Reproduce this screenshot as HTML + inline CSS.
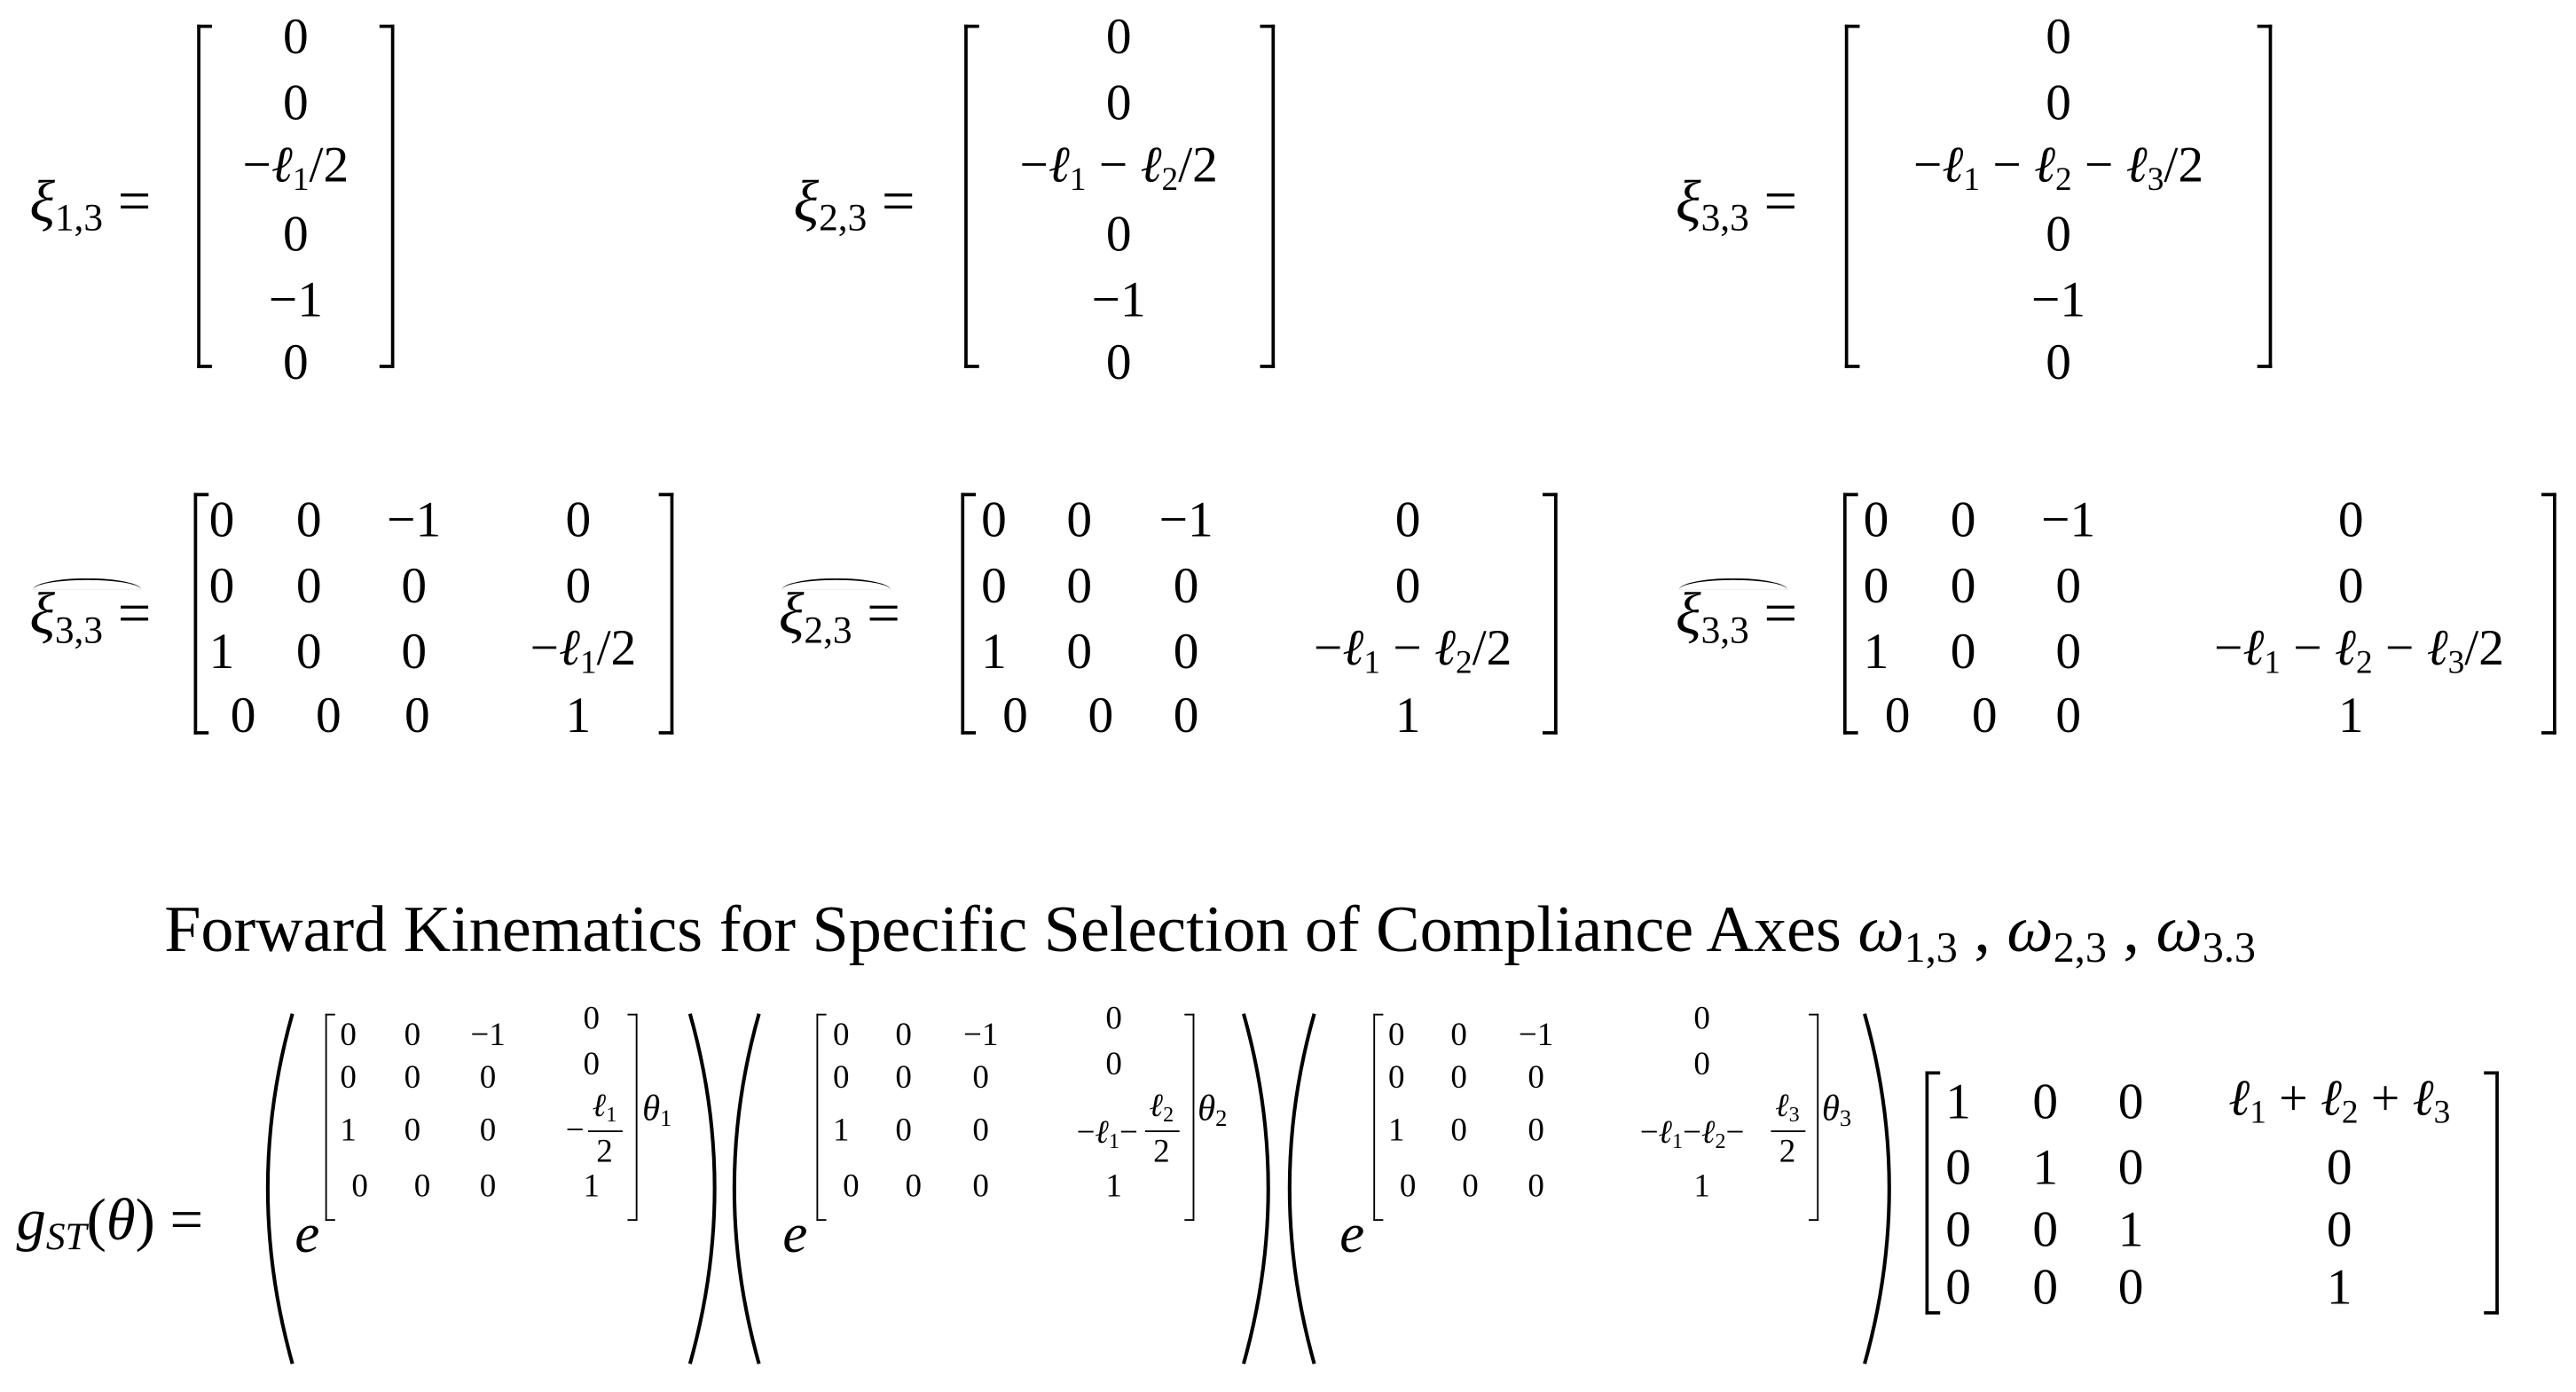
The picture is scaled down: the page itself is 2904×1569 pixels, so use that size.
<!DOCTYPE html>
<html><head><meta charset="utf-8"><style>
html,body{margin:0;padding:0;background:#fff;width:2904px;height:1569px;overflow:hidden}
#w{position:absolute;left:0;top:0;width:1568px;height:847px;transform:scale(1.852);transform-origin:0 0;font-family:"Liberation Serif","DejaVu Serif",serif;color:#000}
.c{position:absolute;transform:translate(-50%,-50%);white-space:nowrap;font-size:31px;line-height:1}
.c.s{font-size:20px}
.l{position:absolute;white-space:nowrap;font-size:36px;line-height:1;transform:translateY(-50%)}
.i{font-style:italic}
sub{font-size:0.65em;vertical-align:-0.25em;font-style:normal}
.bl,.br{position:absolute;border:2px solid #000}
.bl{border-right:none;width:7px}
.br{border-left:none;width:7px}
.sb{border-width:1.3px;width:5px}
.hat{position:absolute;border-top:1.5px solid #000;border-radius:50% 50% 0 0/100% 100% 0 0;height:6px}
.fl{position:absolute;border-top:1.5px solid #000;height:0}
svg{position:absolute;left:0;top:0}
</style></head><body><div id="w">

<svg width="1568" height="847" viewBox="0 0 1568 847">
<g fill="none" stroke="#000" stroke-width="2.2">
<path d="M178 617 Q148 723 178 830"/><path d="M420 617 Q450 723 420 830"/>
<path d="M462 617 Q432 723 462 830"/><path d="M757 617 Q787 723 757 830"/>
<path d="M800 617 Q770 723 800 830"/><path d="M1135 617 Q1165 723 1135 830"/>
</g></svg>

<!-- Row 1 -->
<div class="l" style="left:18px;top:125px"><span class="i">ξ</span><sub>1,3</sub> =</div>
<div class="bl" style="left:120px;top:15px;height:205px"></div><div class="br" style="left:231px;top:15px;height:205px"></div>
<div class="c" style="left:180px;top:22px">0</div><div class="c" style="left:180px;top:62px">0</div>
<div class="c" style="left:180px;top:102px">−<span class="i">ℓ</span><sub>1</sub>/2</div>
<div class="c" style="left:180px;top:142px">0</div><div class="c" style="left:180px;top:182px">−1</div><div class="c" style="left:180px;top:220px">0</div>

<div class="l" style="left:483px;top:125px"><span class="i">ξ</span><sub>2,3</sub> =</div>
<div class="bl" style="left:587px;top:15px;height:205px"></div><div class="br" style="left:767px;top:15px;height:205px"></div>
<div class="c" style="left:681px;top:22px">0</div><div class="c" style="left:681px;top:62px">0</div>
<div class="c" style="left:681px;top:102px">−<span class="i">ℓ</span><sub>1</sub> − <span class="i">ℓ</span><sub>2</sub>/2</div>
<div class="c" style="left:681px;top:142px">0</div><div class="c" style="left:681px;top:182px">−1</div><div class="c" style="left:681px;top:220px">0</div>

<div class="l" style="left:1020px;top:125px"><span class="i">ξ</span><sub>3,3</sub> =</div>
<div class="bl" style="left:1123px;top:15px;height:205px"></div><div class="br" style="left:1374px;top:15px;height:205px"></div>
<div class="c" style="left:1253px;top:22px">0</div><div class="c" style="left:1253px;top:62px">0</div>
<div class="c" style="left:1253px;top:102px">−<span class="i">ℓ</span><sub>1</sub> − <span class="i">ℓ</span><sub>2</sub> − <span class="i">ℓ</span><sub>3</sub>/2</div>
<div class="c" style="left:1253px;top:142px">0</div><div class="c" style="left:1253px;top:182px">−1</div><div class="c" style="left:1253px;top:220px">0</div>

<!-- Row 2 -->
<div class="hat" style="left:20px;top:352px;width:66px"></div>
<div class="l" style="left:18px;top:376px"><span class="i">ξ</span><sub>3,3</sub> =</div>
<div class="bl" style="left:118px;top:300px;height:143px"></div><div class="br" style="left:401px;top:300px;height:143px"></div>
<div class="c" style="left:135px;top:316px">0</div><div class="c" style="left:188px;top:316px">0</div><div class="c" style="left:252px;top:316px">−1</div><div class="c" style="left:352px;top:316px">0</div>
<div class="c" style="left:135px;top:356px">0</div><div class="c" style="left:188px;top:356px">0</div><div class="c" style="left:252px;top:356px">0</div><div class="c" style="left:352px;top:356px">0</div>
<div class="c" style="left:135px;top:396px">1</div><div class="c" style="left:188px;top:396px">0</div><div class="c" style="left:252px;top:396px">0</div><div class="c" style="left:355px;top:396px">−<span class="i">ℓ</span><sub>1</sub>/2</div>
<div class="c" style="left:148px;top:435px">0</div><div class="c" style="left:200px;top:435px">0</div><div class="c" style="left:254px;top:435px">0</div><div class="c" style="left:352px;top:435px">1</div>

<div class="hat" style="left:476px;top:352px;width:66px"></div>
<div class="l" style="left:474px;top:376px"><span class="i">ξ</span><sub>2,3</sub> =</div>
<div class="bl" style="left:585px;top:300px;height:143px"></div><div class="br" style="left:939px;top:300px;height:143px"></div>
<div class="c" style="left:605px;top:316px">0</div><div class="c" style="left:657px;top:316px">0</div><div class="c" style="left:722px;top:316px">−1</div><div class="c" style="left:857px;top:316px">0</div>
<div class="c" style="left:605px;top:356px">0</div><div class="c" style="left:657px;top:356px">0</div><div class="c" style="left:722px;top:356px">0</div><div class="c" style="left:857px;top:356px">0</div>
<div class="c" style="left:605px;top:396px">1</div><div class="c" style="left:657px;top:396px">0</div><div class="c" style="left:722px;top:396px">0</div><div class="c" style="left:860px;top:396px">−<span class="i">ℓ</span><sub>1</sub> − <span class="i">ℓ</span><sub>2</sub>/2</div>
<div class="c" style="left:618px;top:435px">0</div><div class="c" style="left:670px;top:435px">0</div><div class="c" style="left:722px;top:435px">0</div><div class="c" style="left:857px;top:435px">1</div>

<div class="hat" style="left:1022px;top:352px;width:66px"></div>
<div class="l" style="left:1020px;top:376px"><span class="i">ξ</span><sub>3,3</sub> =</div>
<div class="bl" style="left:1122px;top:300px;height:143px"></div><div class="br" style="left:1547px;top:300px;height:143px"></div>
<div class="c" style="left:1142px;top:316px">0</div><div class="c" style="left:1195px;top:316px">0</div><div class="c" style="left:1259px;top:316px">−1</div><div class="c" style="left:1431px;top:316px">0</div>
<div class="c" style="left:1142px;top:356px">0</div><div class="c" style="left:1195px;top:356px">0</div><div class="c" style="left:1259px;top:356px">0</div><div class="c" style="left:1431px;top:356px">0</div>
<div class="c" style="left:1142px;top:396px">1</div><div class="c" style="left:1195px;top:396px">0</div><div class="c" style="left:1259px;top:396px">0</div><div class="c" style="left:1436px;top:396px">−<span class="i">ℓ</span><sub>1</sub> − <span class="i">ℓ</span><sub>2</sub> − <span class="i">ℓ</span><sub>3</sub>/2</div>
<div class="c" style="left:1155px;top:435px">0</div><div class="c" style="left:1208px;top:435px">0</div><div class="c" style="left:1259px;top:435px">0</div><div class="c" style="left:1431px;top:435px">1</div>

<!-- Title -->
<div class="l" style="left:100px;top:568px;font-size:40px">Forward Kinematics for Specific Selection of Compliance Axes <span class="i">ω</span><sub>1,3</sub> , <span class="i">ω</span><sub>2,3</sub> , <span class="i">ω</span><sub>3.3</sub></div>

<!-- Bottom -->
<div class="l" style="left:10px;top:745px;font-size:36px"><span class="i">g</span><sub class="i">ST</sub>(<span class="i">θ</span>) =</div>

<div class="c i" style="left:187px;top:752px;font-size:34px">e</div>
<div class="bl sb" style="left:198px;top:617px;height:124px"></div><div class="br sb" style="left:382px;top:617px;height:124px"></div>
<div class="c s" style="left:212px;top:630px">0</div><div class="c s" style="left:251px;top:630px">0</div><div class="c s" style="left:297px;top:630px">−1</div><div class="c s" style="left:360px;top:620px">0</div>
<div class="c s" style="left:212px;top:656px">0</div><div class="c s" style="left:251px;top:656px">0</div><div class="c s" style="left:297px;top:656px">0</div><div class="c s" style="left:360px;top:648px">0</div>
<div class="c s" style="left:212px;top:688px">1</div><div class="c s" style="left:251px;top:688px">0</div><div class="c s" style="left:297px;top:688px">0</div>
<div class="c s" style="left:350px;top:688px">−</div><div class="c s" style="left:368px;top:674px"><span class="i">ℓ</span><sub>1</sub></div><div class="fl" style="left:358px;top:688px;width:21px"></div><div class="c s" style="left:368px;top:701px">2</div>
<div class="c s" style="left:219px;top:722px">0</div><div class="c s" style="left:257px;top:722px">0</div><div class="c s" style="left:297px;top:722px">0</div><div class="c s" style="left:360px;top:722px">1</div>
<div class="l" style="left:391px;top:676px;font-size:22px"><span class="i">θ</span><sub>1</sub></div>

<div class="c i" style="left:484px;top:752px;font-size:34px">e</div>
<div class="bl sb" style="left:497px;top:617px;height:124px"></div><div class="br sb" style="left:721px;top:617px;height:124px"></div>
<div class="c s" style="left:512px;top:630px">0</div><div class="c s" style="left:550px;top:630px">0</div><div class="c s" style="left:597px;top:630px">−1</div><div class="c s" style="left:678px;top:620px">0</div>
<div class="c s" style="left:512px;top:656px">0</div><div class="c s" style="left:550px;top:656px">0</div><div class="c s" style="left:597px;top:656px">0</div><div class="c s" style="left:678px;top:648px">0</div>
<div class="c s" style="left:512px;top:688px">1</div><div class="c s" style="left:550px;top:688px">0</div><div class="c s" style="left:597px;top:688px">0</div>
<div class="c s" style="left:674px;top:690px">−<span class="i">ℓ</span><sub>1</sub>−</div><div class="c s" style="left:707px;top:674px"><span class="i">ℓ</span><sub>2</sub></div><div class="fl" style="left:697px;top:688px;width:21px"></div><div class="c s" style="left:707px;top:701px">2</div>
<div class="c s" style="left:518px;top:722px">0</div><div class="c s" style="left:556px;top:722px">0</div><div class="c s" style="left:597px;top:722px">0</div><div class="c s" style="left:678px;top:722px">1</div>
<div class="l" style="left:729px;top:676px;font-size:22px"><span class="i">θ</span><sub>2</sub></div>

<div class="c i" style="left:823px;top:752px;font-size:34px">e</div>
<div class="bl sb" style="left:836px;top:617px;height:124px"></div><div class="br sb" style="left:1101px;top:617px;height:124px"></div>
<div class="c s" style="left:850px;top:630px">0</div><div class="c s" style="left:888px;top:630px">0</div><div class="c s" style="left:935px;top:630px">−1</div><div class="c s" style="left:1036px;top:620px">0</div>
<div class="c s" style="left:850px;top:656px">0</div><div class="c s" style="left:888px;top:656px">0</div><div class="c s" style="left:935px;top:656px">0</div><div class="c s" style="left:1036px;top:648px">0</div>
<div class="c s" style="left:850px;top:688px">1</div><div class="c s" style="left:888px;top:688px">0</div><div class="c s" style="left:935px;top:688px">0</div>
<div class="c s" style="left:1030px;top:690px">−<span class="i">ℓ</span><sub>1</sub>−<span class="i">ℓ</span><sub>2</sub>−</div><div class="c s" style="left:1088px;top:674px"><span class="i">ℓ</span><sub>3</sub></div><div class="fl" style="left:1078px;top:688px;width:21px"></div><div class="c s" style="left:1088px;top:701px">2</div>
<div class="c s" style="left:857px;top:722px">0</div><div class="c s" style="left:895px;top:722px">0</div><div class="c s" style="left:935px;top:722px">0</div><div class="c s" style="left:1036px;top:722px">1</div>
<div class="l" style="left:1109px;top:676px;font-size:22px"><span class="i">θ</span><sub>3</sub></div>

<div class="bl" style="left:1172px;top:652px;height:144px"></div><div class="br" style="left:1512px;top:652px;height:144px"></div>
<div class="c" style="left:1192px;top:670px">1</div><div class="c" style="left:1245px;top:670px">0</div><div class="c" style="left:1297px;top:670px">0</div><div class="c" style="left:1424px;top:670px"><span class="i">ℓ</span><sub>1</sub> + <span class="i">ℓ</span><sub>2</sub> + <span class="i">ℓ</span><sub>3</sub></div>
<div class="c" style="left:1192px;top:710px">0</div><div class="c" style="left:1245px;top:710px">1</div><div class="c" style="left:1297px;top:710px">0</div><div class="c" style="left:1424px;top:710px">0</div>
<div class="c" style="left:1192px;top:748px">0</div><div class="c" style="left:1245px;top:748px">0</div><div class="c" style="left:1297px;top:748px">1</div><div class="c" style="left:1424px;top:748px">0</div>
<div class="c" style="left:1192px;top:783px">0</div><div class="c" style="left:1245px;top:783px">0</div><div class="c" style="left:1297px;top:783px">0</div><div class="c" style="left:1424px;top:783px">1</div>

</div></body></html>
